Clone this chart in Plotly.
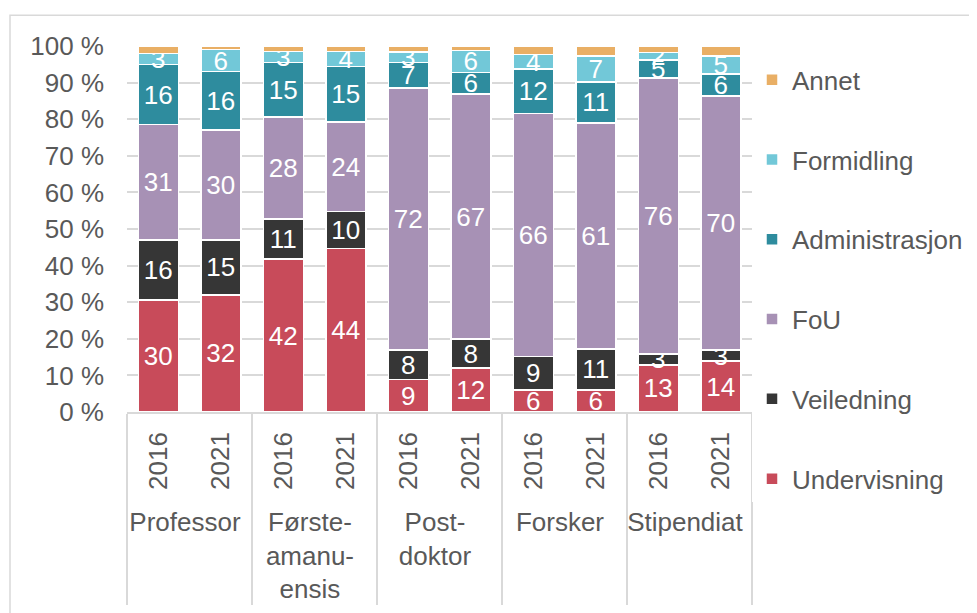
import plotly.graph_objects as go

groups = ["Professor", "Første-<br>amanu-<br>ensis", "Post-<br>doktor", "Forsker", "Stipendiat"]
years = ["2016", "2021"]

undervisning = [30, 32, 42, 44, 9, 12, 6, 6, 13, 14]
veiledning = [16, 15, 11, 10, 8, 8, 9, 11, 3, 3]
fou = [31, 30, 28, 24, 72, 67, 66, 61, 76, 70]
administrasjon = [16, 16, 15, 15, 7, 6, 12, 11, 5, 6]
formidling = [3, 6, 3, 4, 3, 6, 4, 7, 2, 5]
annet = [2.0, 1.0, 1.5, 1.5, 1.6, 1.2, 2.3, 2.7, 1.8, 2.7]

y_ticks = list(range(0, 101, 10))
y_tick_text = [f"{v} %" for v in y_ticks]

series = [
    ("Undervisning", undervisning, "#C84B5A", True),
    ("Veiledning", veiledning, "#363636", True),
    ("FoU", fou, "#A791B5", True),
    ("Administrasjon", administrasjon, "#2E8C9E", True),
    ("Formidling", formidling, "#72C8D8", True),
    ("Annet", annet, "#E9AF65", False),
]

x_groups = [g for g in groups for _ in years]
x_years = [y for _ in groups for y in years]

FONT = "Liberation Sans, Arial, sans-serif"

fig = go.Figure()
n = len(series)
for i, (name, vals, color, labelled) in enumerate(series):
    fig.add_trace(go.Bar(
        name=name,
        x=[x_groups, x_years],
        y=vals,
        marker=dict(color=color, line=dict(color="white", width=1.5)),
        text=[str(v) for v in vals] if labelled else None,
        textposition="inside" if labelled else "none",
        insidetextanchor="middle",
        constraintext="none",
        textangle=0,
        textfont=dict(color="white", size=26, family=FONT),
        legendgroup=name,
        legendrank=n - i,
    ))

fig.update_layout(
    barmode="stack",
    barnorm="percent",
    bargap=0.36,
    width=969,
    height=605,
    margin=dict(l=119, r=225, t=38, b=201, autoexpand=False),
    paper_bgcolor="white",
    plot_bgcolor="white",
    font=dict(family=FONT, size=26, color="#595959"),
    showlegend=True,
    legend=dict(
        x=1.0, xanchor="left", y=0.972, yanchor="top",
        traceorder="grouped",
        tracegroupgap=43,
        font=dict(size=26, color="#595959", family=FONT),
        itemwidth=30,
        maxheight=600,
    ),
    shapes=[dict(
        type="rect", xref="paper", yref="paper",
        x0=-0.1872, x1=1.40, y0=-0.60, y1=1.0838,
        line=dict(color="#D9D9D9", width=1.5), layer="below",
    )],
)

fig.update_yaxes(
    range=[0, 100],
    tickvals=y_ticks,
    ticktext=y_tick_text,
    showgrid=True, gridcolor="#D9D9D9", gridwidth=1.5,
    zeroline=False, showline=False,
    ticks="", ticklabelstandoff=22,
    automargin=False,
    tickfont=dict(size=26, color="#595959", family=FONT),
)
fig.update_xaxes(
    type="multicategory",
    tickangle=-90,
    showline=True, linecolor="#D9D9D9", linewidth=1.5,
    showdividers=True, dividercolor="#D9D9D9", dividerwidth=1.5,
    ticks="", ticklabelstandoff=8,
    automargin=False,
    tickfont=dict(size=26, color="#595959", family=FONT),
)

fig.write_html("out.html")
